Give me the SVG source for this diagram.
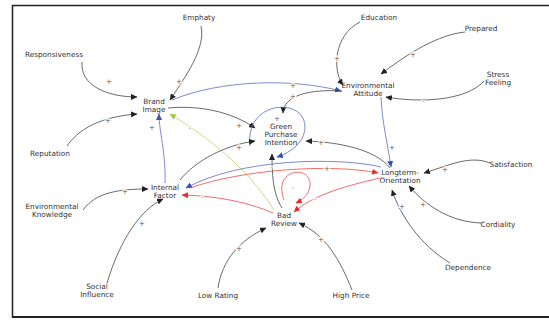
<svg xmlns="http://www.w3.org/2000/svg" width="549" height="320" viewBox="0 0 549 320">
<style>
text{font-family:"DejaVu Sans","Verdana",sans-serif;font-size:7.3px;fill:#333;text-anchor:middle}
.l{fill:none;stroke-width:0.8}
.k{stroke:#444}
.b{stroke:#5a6cc0}
.r{stroke:#f04848}
.g{stroke:#b4d66a}
.lab{font-size:7px;stroke:#fff;stroke-width:2;paint-order:stroke;fill:#555}
</style>
<defs>
<marker id="ak" markerWidth="7" markerHeight="6" refX="6" refY="3" orient="auto" markerUnits="userSpaceOnUse"><path d="M0,0 L6.5,3 L0,6 Z" fill="#222"/></marker>
<marker id="ab" markerWidth="7" markerHeight="6" refX="6" refY="3" orient="auto" markerUnits="userSpaceOnUse"><path d="M0,0 L6.5,3 L0,6 Z" fill="#3a4fb8"/></marker>
<marker id="ar" markerWidth="7" markerHeight="6" refX="6" refY="3" orient="auto" markerUnits="userSpaceOnUse"><path d="M0,0 L6.5,3 L0,6 Z" fill="#f02a2a"/></marker>
<marker id="ag" markerWidth="7" markerHeight="6" refX="6" refY="3" orient="auto" markerUnits="userSpaceOnUse"><path d="M0,0 L6.5,3 L0,6 Z" fill="#9cc94a"/></marker>
</defs>
<rect width="549" height="320" fill="#fff"/>
<g id="frame" stroke="#222" fill="none">
<path d="M12,5.5 H549" stroke-width="1.6"/>
<path d="M12.5,5 V317.5" stroke-width="1.5"/>
<path d="M12,317 H549" stroke-width="2"/>
</g>
<g id="connectors">
<path class="l k" d="M201,26 C206,48 186,76 170,100" marker-end="url(#ak)"/>
<path class="l k" d="M82,62 C80,86 108,97 137,97" marker-end="url(#ak)"/>
<path class="l k" d="M67,146 C82,124 110,116 137,114" marker-end="url(#ak)"/>
<path class="l b" d="M165,183 C166,152 159,132 159,114" marker-end="url(#ab)"/>
<path class="l g" d="M274,210 C252,176 222,146 170,114" marker-end="url(#ag)"/>
<path class="l k" d="M168,108 C200,105 232,112 255,128" marker-end="url(#ak)"/>
<path class="l b" d="M172,100 C220,80 292,78 341,91" marker-end="url(#ab)"/>
<path class="l k" d="M360,22 C334,35 332,70 343,85" marker-end="url(#ak)"/>
<path class="l k" d="M465,32 C438,35 410,52 381,74" marker-end="url(#ak)"/>
<path class="l k" d="M484,81 C466,101 420,103 386,97" marker-end="url(#ak)"/>
<path class="l b" d="M381,97 C382,122 388,146 391,167" marker-end="url(#ab)"/>
<path class="l k" d="M342,91 C310,89 284,95 283,113" marker-end="url(#ak)"/>
<path class="l b" d="M250,146 C244,100 306,96 305,128 C304,142 292,152 277,157" marker-end="url(#ab)"/>
<path class="l k" d="M390,168 C376,150 340,142 306,141" marker-end="url(#ak)"/>
<path class="l k" d="M180,180 C196,160 226,145 255,141" marker-end="url(#ak)"/>
<path class="l k" d="M282,208 C274,195 272,180 272,154" marker-end="url(#ak)"/>
<path class="l b" d="M381,167 C340,157 240,158 186,188" marker-end="url(#ab)"/>
<path class="l r" d="M190,188 C240,170 330,163 378,173" marker-end="url(#ar)"/>
<path class="l r" d="M273,213 C250,203 220,196 182,195" marker-end="url(#ar)"/>
<path class="l r" d="M284,200 C272,168 312,164 310,186 C309,195 302,200 296,203" marker-end="url(#ar)"/>
<path class="l r" d="M380,178 C350,185 314,194 294,212" marker-end="url(#ar)"/>
<path class="l k" d="M83,210 C96,192 120,189 148,189" marker-end="url(#ak)"/>
<path class="l k" d="M107,283 C120,240 140,210 163,199" marker-end="url(#ak)"/>
<path class="l k" d="M218,288 C222,260 240,240 266,228" marker-end="url(#ak)"/>
<path class="l k" d="M352,290 C340,260 326,235 299,223" marker-end="url(#ak)"/>
<path class="l k" d="M490,163 C470,155 450,165 424,173" marker-end="url(#ak)"/>
<path class="l k" d="M481,223 C450,222 425,205 409,186" marker-end="url(#ak)"/>
<path class="l k" d="M450,263 C420,245 400,215 392,190" marker-end="url(#ak)"/>
<g id="link-labels">
<text class="lab" x="179" y="84">+</text>
<text class="lab" x="109" y="84">+</text>
<text class="lab" x="108" y="123">+</text>
<text class="lab" x="152" y="130">+</text>
<text class="lab" x="190" y="130">-</text>
<text class="lab" x="239" y="128">+</text>
<text class="lab" x="293" y="88">+</text>
<text class="lab" x="337" y="61">+</text>
<text class="lab" x="413" y="57">+</text>
<text class="lab" x="423" y="103">-</text>
<text class="lab" x="392" y="150">+</text>
<text class="lab" x="293" y="99">+</text>
<text class="lab" x="277" y="120.5" style="fill:#3a4fb8">+</text>
<text class="lab" x="321" y="145">+</text>
<text class="lab" x="239" y="150">+</text>
<text class="lab" x="272" y="169">-</text>
<text class="lab" x="327" y="171">+</text>
<text class="lab" x="202" y="199">-</text>
<text class="lab" x="293" y="190" style="fill:#f04848">-</text>
<text class="lab" x="315" y="201">-</text>
<text class="lab" x="125" y="194">+</text>
<text class="lab" x="142" y="226">+</text>
<text class="lab" x="239" y="251">+</text>
<text class="lab" x="321" y="242">+</text>
<text class="lab" x="445" y="172">+</text>
<text class="lab" x="423" y="207">+</text>
<text class="lab" x="402" y="209">+</text>
</g>
</g>
<g id="n-emphaty"><text x="199" y="20">Emphaty</text></g>
<g id="n-education"><text x="379" y="20">Education</text></g>
<g id="n-responsiveness"><text x="54" y="57">Responsiveness</text></g>
<g id="n-prepared"><text x="481" y="31">Prepared</text></g>
<g id="n-stress"><text x="498" y="77">Stress</text><text x="498" y="85">Feeling</text></g>
<g id="n-brand"><text x="154" y="104">Brand</text><text x="154" y="112">Image</text></g>
<g id="n-envatt"><text x="368" y="88">Environmental</text><text x="368" y="96">Attitude</text></g>
<g id="n-green"><text x="281" y="129">Green</text><text x="281" y="137">Purchase</text><text x="281" y="145">Intention</text></g>
<g id="n-reputation"><text x="50" y="156">Reputation</text></g>
<g id="n-satisfaction"><text x="511" y="167">Satisfaction</text></g>
<g id="n-longterm"><text x="400" y="175">Longterm-</text><text x="400" y="183">Orientation</text></g>
<g id="n-envknow"><text x="52" y="209">Environmental</text><text x="52" y="217">Knowledge</text></g>
<g id="n-internal"><text x="165" y="190">Internal</text><text x="165" y="198">Factor</text></g>
<g id="n-bad"><text x="284" y="218">Bad</text><text x="284" y="226">Review</text></g>
<g id="n-cordiality"><text x="498" y="227">Cordiality</text></g>
<g id="n-dependence"><text x="468" y="270">Dependence</text></g>
<g id="n-social"><text x="97" y="289">Social</text><text x="97" y="297">Influence</text></g>
<g id="n-lowrating"><text x="218" y="298">Low Rating</text></g>
<g id="n-highprice"><text x="351" y="298">High Price</text></g>
</svg>
